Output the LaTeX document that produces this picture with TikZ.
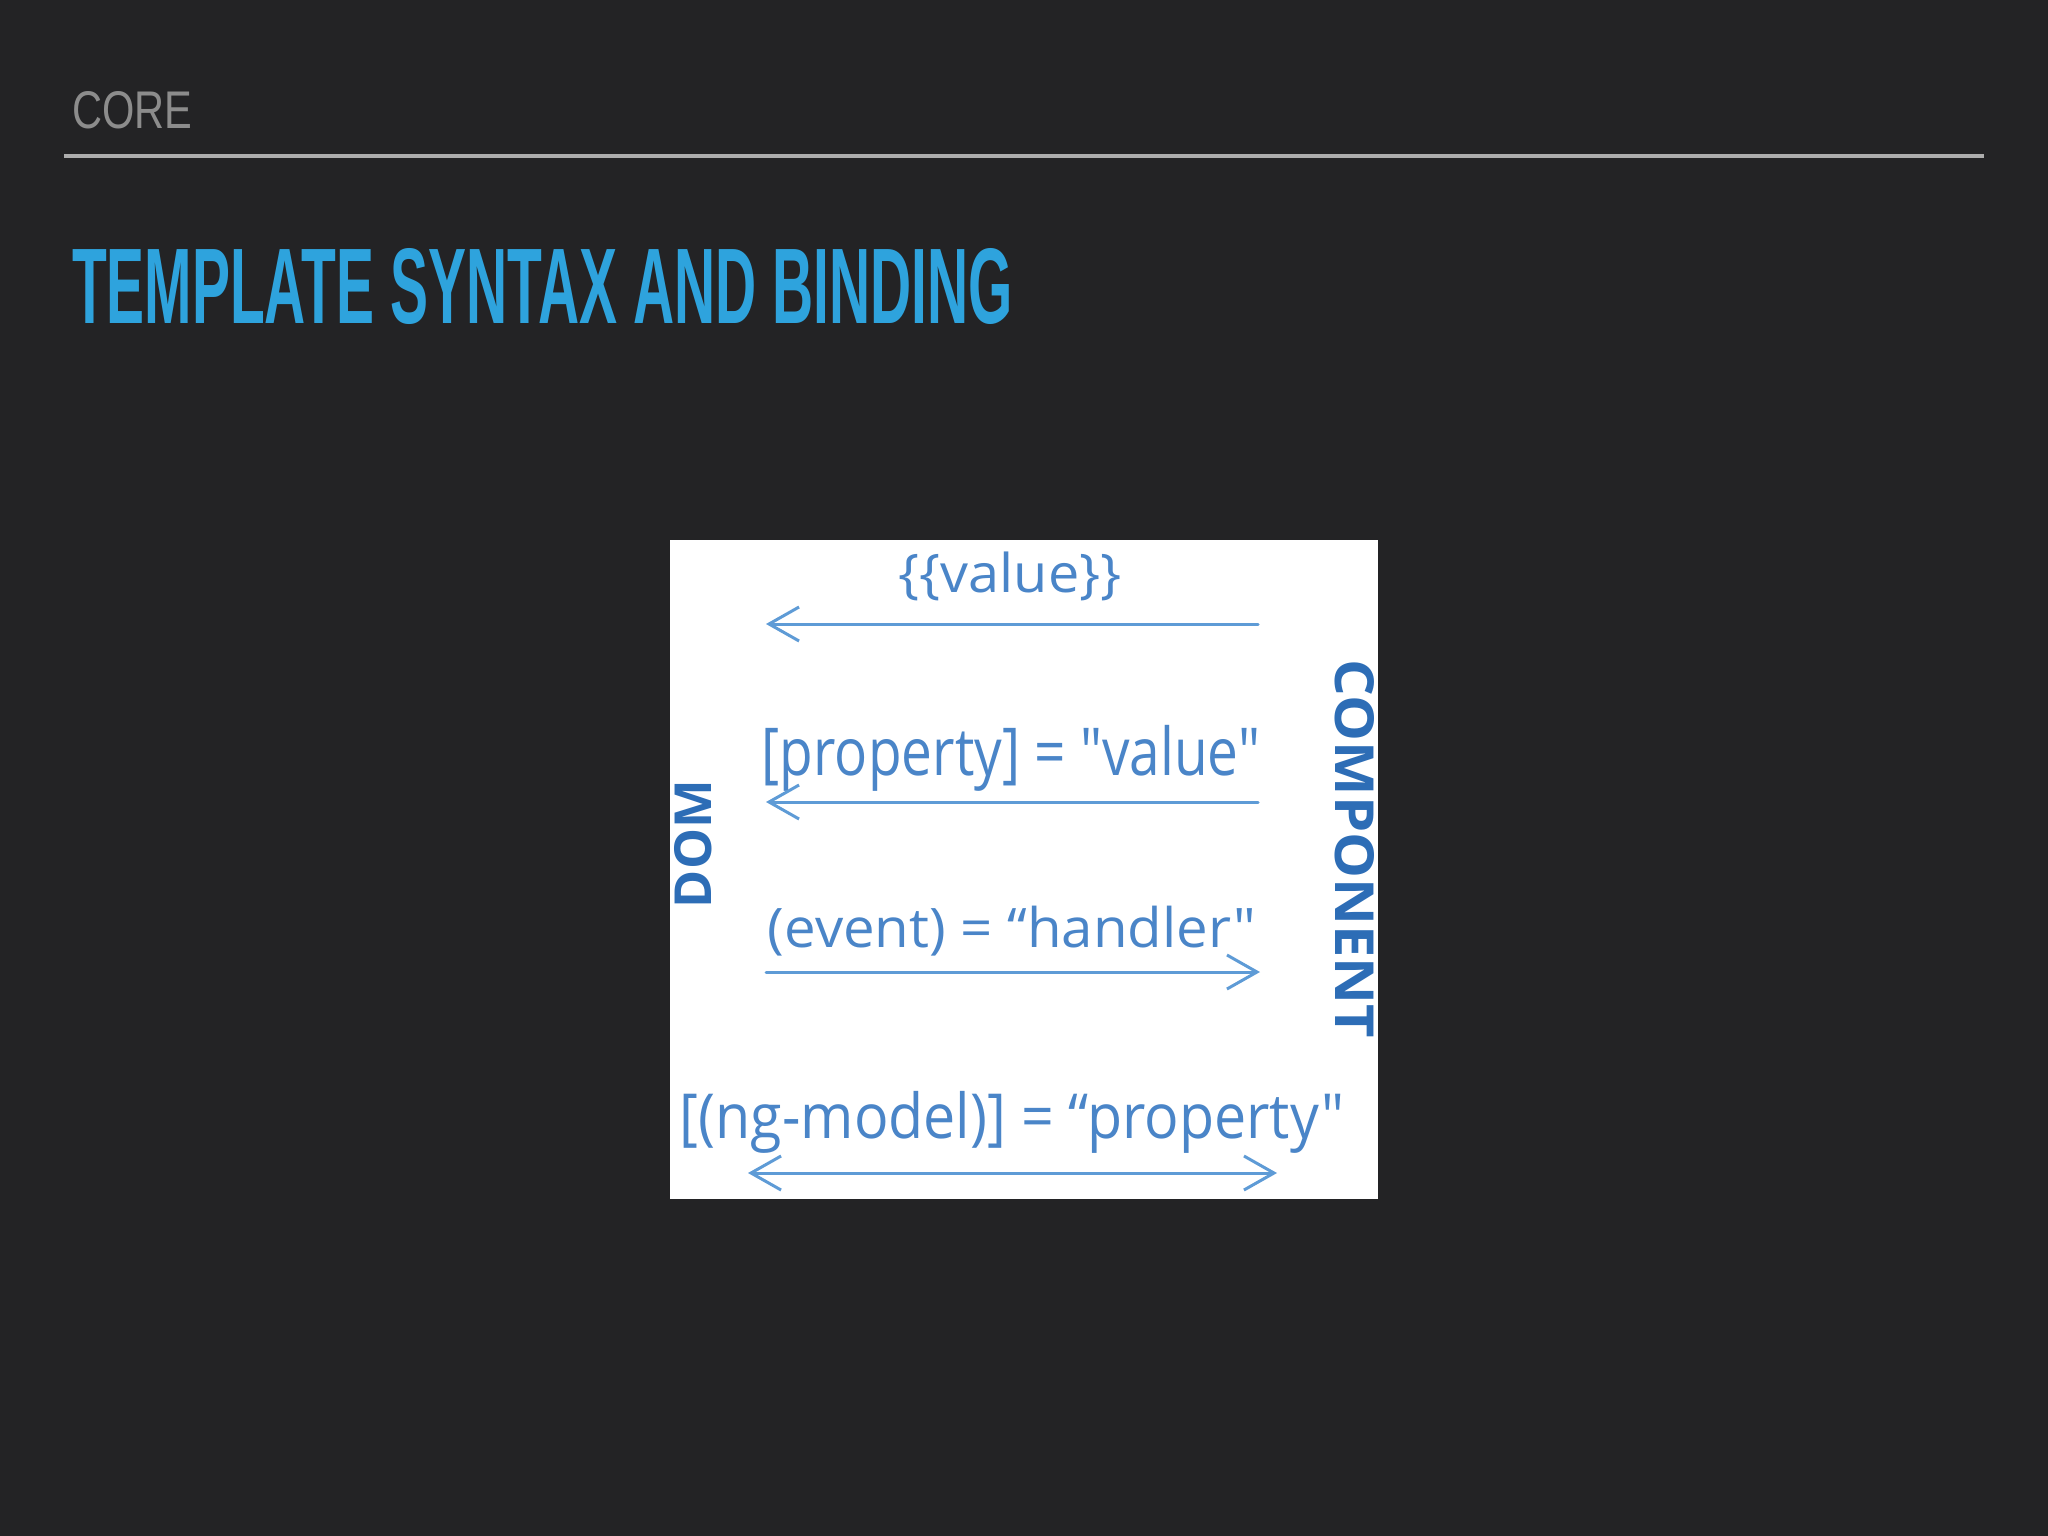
\documentclass[tikz,border=0pt]{standalone}
\usepackage{fontspec}
\setmainfont{Liberation Sans}
\newfontfamily\handfont{Open Sans}
\usetikzlibrary{arrows.meta}
\definecolor{bgcol}{HTML}{232325}
\definecolor{coregray}{HTML}{8C8C8C}
\definecolor{rulegray}{HTML}{ADADAD}
\definecolor{titleblue}{HTML}{2EA3DD}
\definecolor{handblue}{HTML}{4A85C8}
\definecolor{sideblue}{HTML}{2D6DB6}
\definecolor{arrowblue}{HTML}{5E9BD6}
\tikzset{
  txt/.style={inner sep=0pt, outer sep=0pt},
  hand/.style={txt, text=handblue, font=\handfont},
  side/.style={txt, text=sideblue, font=\handfont\bfseries},
  flow/.style={draw=arrowblue, line width=0.85pt, line cap=round},
  barb/.tip={Straight Barb[length=0.30cm, width=0.34cm, line width=0.85pt]}
}
\begin{document}
\begin{tikzpicture}[x=0.01cm, y=-0.01cm]
  \fill[bgcol] (0,0) rectangle (2048,1536);
  \useasboundingbox (0,0) rectangle (2048,1536);

  % header
  \node[txt, anchor=base west, text=coregray] (core) at (72,128)
    {\resizebox{1.20cm}{0.37cm}{CORE}};
  \draw[rulegray, line width=0.9pt] (64,156) -- (1984,156);
  \node[txt, anchor=base west, text=titleblue] (title) at (72,323)
    {\resizebox{9.40cm}{0.75cm}{\bfseries TEMPLATE SYNTAX AND BINDING}};

  % white panel
  \fill[white] (670,540) rectangle (1378,1199);

  % labels
  \node[hand] (l1) at (1010,576)
    {\resizebox*{2.23cm}{0.49cm}{\{\{value\}\}}};
  \node[hand] (l2) at (1011,758)
    {\resizebox*{4.98cm}{0.66cm}{[property] = "value"}};
  \node[hand] (l3) at (1012,931)
    {\resizebox*{4.88cm}{0.50cm}{(event) = “handler"}};
  \node[hand] (l4) at (1012,1122)
    {\resizebox*{6.64cm}{0.62cm}{[(ng-model)] = “property"}};

  \node[side, rotate=90] (dom) at (693,844)
    {\resizebox{1.28cm}{0.37cm}{DOM}};
  \node[side, rotate=-90] (comp) at (1355,849)
    {\resizebox{3.78cm}{0.39cm}{COMPONENT}};

  % arrows
  \coordinate (a1s) at (1258,624);  \coordinate (a1e) at (766,624);
  \coordinate (a2s) at (1258,802);  \coordinate (a2e) at (766,802);
  \coordinate (a3s) at (766,972);   \coordinate (a3e) at (1260,972);
  \coordinate (a4s) at (748,1173);  \coordinate (a4e) at (1277,1173);
  \draw[flow, -barb] (a1s) -- (a1e);
  \draw[flow, -barb] (a2s) -- (a2e);
  \draw[flow, -barb] (a3s) -- (a3e);
  \draw[flow, barb-barb] (a4s) -- (a4e);
\end{tikzpicture}
\end{document}
